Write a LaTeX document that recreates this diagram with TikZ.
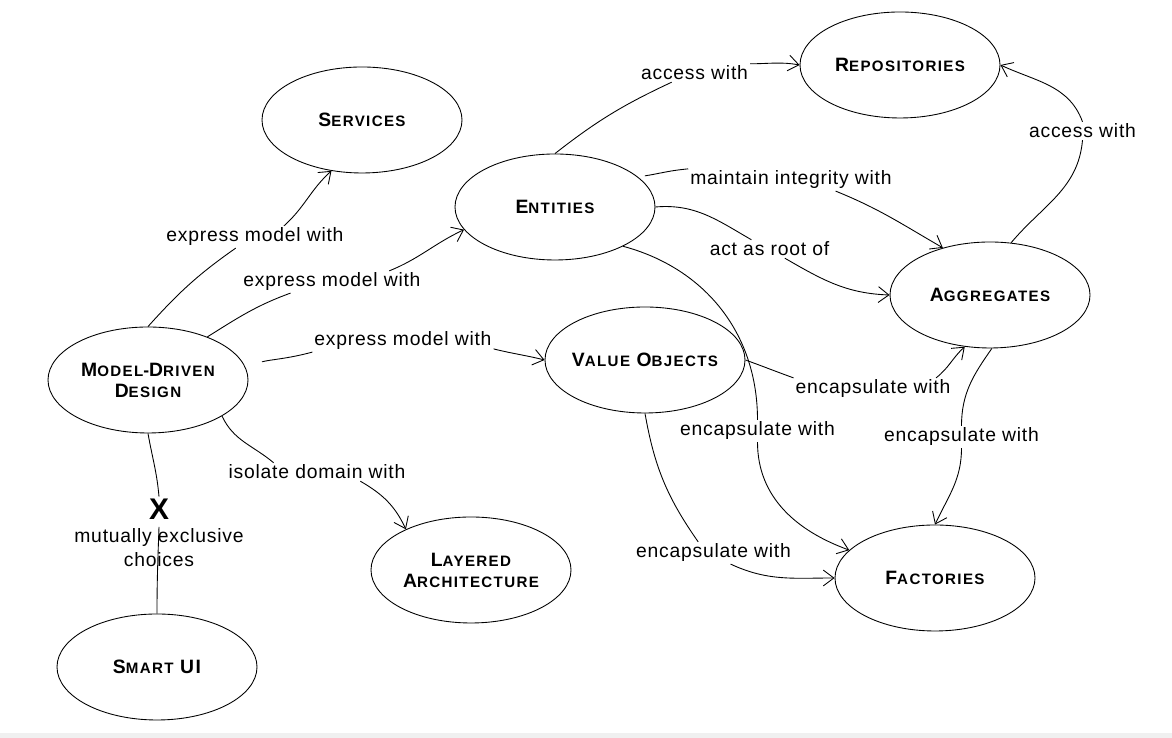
\documentclass[tikz,border=0pt]{standalone}
\usepackage{fontspec}
\setmainfont{Liberation Sans}
\newfontfamily\lblfont[LetterSpace=4]{Liberation Sans}
\newfontfamily\ttlfont[LetterSpace=9]{Liberation Sans}
\usepackage{tikz}
\usetikzlibrary{shapes.geometric,arrows.meta}

\newcommand{\sctitle}[2]{{\fontsize{11}{12.5}\selectfont #1}{\fontsize{8.6}{12.5}\selectfont #2}}

\begin{document}
\begin{tikzpicture}[
    >={Straight Barb[length=6pt,width=9pt]},
    concept/.style={ellipse, draw, line width=0.5pt, minimum width=4cm, minimum height=2.12cm,
        inner xsep=-3pt, inner ysep=0pt, align=center, font=\ttlfont\bfseries, text depth=0pt},
    rel/.style={font=\lblfont\fontsize{11}{13.6}\selectfont, inner sep=1pt},
    link/.style={line width=0.5pt}
]
    \useasboundingbox (0,0) rectangle (23.44,14.76);
    \fill[black!6] (0,0) rectangle (23.44,0.1);

    \node[concept] (services)  at (7.24,12.36) {\sctitle{S}{ERVICES}};
    \node[concept] (repos)     at (18.00,13.46) {\sctitle{R}{EPOSITORIES}};
    \node[concept] (entities)  at (11.10,10.62) {\sctitle{E}{NTITIES}};
    \node[concept] (aggr)      at (19.80,8.86) {\sctitle{A}{GGREGATES}};
    \node[concept] (mdd)       at (2.96,7.16) {\sctitle{M}{ODEL}-\sctitle{D}{RIVEN}\\\sctitle{D}{ESIGN}};
    \node[concept] (vo)        at (12.90,7.56) {\sctitle{V}{ALUE} \sctitle{O}{BJECTS}};
    \node[concept] (layered)   at (9.42,3.36) {\sctitle{L}{AYERED}\\\sctitle{A}{RCHITECTURE}};
    \node[concept] (factories) at (18.70,3.20) {\sctitle{F}{ACTORIES}};
    \node[concept] (smartui)   at (3.14,1.42) {\sctitle{S}{MART} \sctitle{UI}{}};

    \node[rel] (l_serv)   at (5.10,10.02) {express model with};
    \node[rel] (l_ent)    at (6.64,9.12) {express model with};
    \node[rel] (l_vo)     at (8.06,7.94) {express model with};
    \node[rel] (l_lay)    at (6.34,5.32) {isolate domain with};
    \node[rel] (l_rep)    at (13.89,13.30) {access with};
    \node[rel] (l_int)    at (15.82,11.16) {maintain integrity with};
    \node[rel] (l_root)   at (15.39,9.78) {act as root of};
    \node[rel] (l_entfac) at (15.15,6.14) {encapsulate with};
    \node[rel] (l_aggrep) at (21.65,12.14) {access with};
    \node[rel] (l_voagg)  at (17.46,6.98) {encapsulate with};
    \node[rel] (l_aggfac) at (19.23,6.02) {encapsulate with};
    \node[rel] (l_vofac)  at (14.27,3.70) {encapsulate with};
    \node[font=\bfseries\fontsize{17}{20}\selectfont, inner sep=1pt] (x) at (3.18,4.58) {X};
    \node[rel, align=center] (choices) at (3.18,3.80) {mutually exclusive\\choices};

    \draw[link] (mdd.north) to[out=48,in=215] (l_serv.-150);
    \draw[link,->] (l_serv.21) to[out=42,in=222] (services.-121);
    \draw[link] (mdd.36) to[out=32,in=200] (l_ent.-165);
    \draw[link,->] (l_ent.11) to[out=22,in=205] (entities.-166);
    \draw[link, shorten <=0.35cm] (mdd.8) to[out=15,in=195] (l_vo.south west);
    \draw[link,->] (l_vo.-5) to[out=-14,in=166] (vo.west);
    \draw[link] (mdd.-26) to[out=-65,in=140] (l_lay.168);
    \draw[link,->] (l_lay.-12) to[out=-30,in=115] (layered.148);
    \draw[link] (mdd.south) to[out=-80,in=95] (x.north);
    \draw[link] (choices.north) to[out=-92,in=90] (smartui.north);

    \draw[link] (entities.north) to[out=38,in=205] (l_rep.-158);
    \draw[link,->] (l_rep.north east) to[out=0,in=170] (repos.west);
    \draw[link, shorten <=4pt] (entities.20) to[out=8,in=185] (l_int.north west);
    \draw[link,->] (l_int.-14) to[out=-22,in=150] (aggr.135);
    \draw[link] (entities.east) to[out=5,in=150] (l_root.153);
    \draw[link,->] (l_root.-31) to[out=-30,in=178] (aggr.west);
    \draw[link] (entities.-30) to[out=-15,in=90] (l_entfac.north);
    \draw[link,->] (l_entfac.south) to[out=-90,in=160] (factories.162);

    \draw[link] (aggr.68) to[out=50,in=-95] (l_aggrep.south);
    \draw[link,->] (l_aggrep.north) to[out=110,in=-25] (repos.east);
    \draw[link] (vo.east) to[out=-20,in=160] (l_voagg.north west);
    \draw[link,->] (l_voagg.10) to[out=38,in=-138] (aggr.-116);
    \draw[link] (vo.south) to[out=-80,in=125] (l_vofac.144);
    \draw[link,->] (l_vofac.-33) to[out=-25,in=180] (factories.west);
    \draw[link] (aggr.-88) to[out=-125,in=90] (l_aggfac.north);
    \draw[link,->] (l_aggfac.south) to[out=-90,in=65] (factories.north);
\end{tikzpicture}
\end{document}
